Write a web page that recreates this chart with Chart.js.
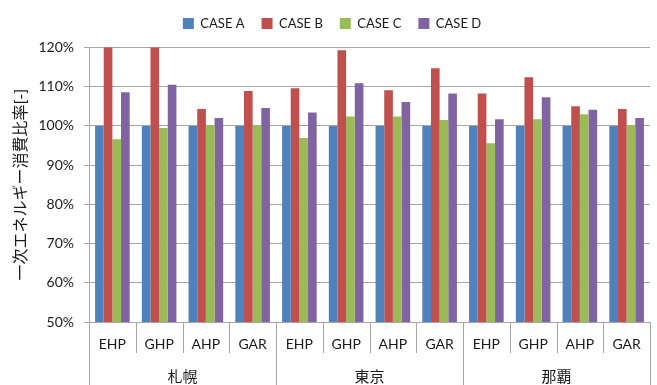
<!DOCTYPE html>
<html>
<head>
<meta charset="utf-8">
<script src="https://cdn.jsdelivr.net/npm/chart.js@4/dist/chart.umd.min.js"></script>
<style>
  html, body { margin: 0; padding: 0; background: #fff; }
  #wrap { width: 657px; height: 385px; }
</style>
</head>
<body>
<div id="wrap"><canvas id="c" width="657" height="385"></canvas></div>
<script>
// Cities (outer category level) and systems (inner level)
const cities = ['札幌', '東京', '那覇'];
const systems = ['EHP', 'GHP', 'AHP', 'GAR'];

// Primary energy consumption ratio [%], ordered 札幌 EHP..GAR, 東京 EHP..GAR, 那覇 EHP..GAR
const caseA = [100, 100, 100, 100, 100, 100, 100, 100, 100, 100, 100, 100];
const caseB = [123.0, 124.0, 104.3, 108.9, 109.6, 119.3, 109.1, 114.7, 108.3, 112.4, 105.0, 104.3];
const caseC = [96.6, 99.5, 100.2, 100.2, 96.9, 102.4, 102.4, 101.5, 95.6, 101.7, 103.0, 100.2];
const caseD = [108.6, 110.5, 102.0, 104.6, 103.4, 110.9, 106.1, 108.3, 101.7, 107.3, 104.1, 102.0];

const yTicks = { min: 50, max: 120, step: 10 };
const yTitle = '一次エネルギー消費比率[-]';

const labels = [];
cities.forEach(c => systems.forEach(s => labels.push(s)));

const FONT = "Lato, 'Noto Sans CJK JP', sans-serif";
const GRID = '#a6a6a6';

// Extra room between the legend and the plot area
const legendGap = {
  id: 'legendGap',
  beforeLayout(chart) {
    const lg = chart.legend;
    if (lg && !lg._gapPatched) {
      const fit = lg.fit;
      lg.fit = function () { fit.call(this); this.height += 7.5; };
      lg._gapPatched = true;
    }
  }
};

// Two-level category axis: inner system labels, outer city labels and separators
const multiLevelAxis = {
  id: 'multiLevelAxis',
  afterDraw(chart) {
    const { ctx, chartArea: area, scales: { x } } = chart;
    const n = labels.length;
    const w = (area.right - area.left) / n;
    const bottom = chart.height;
    ctx.save();
    ctx.strokeStyle = GRID;
    ctx.lineWidth = 1;
    for (let i = 0; i <= n; i++) {
      const xx = Math.round(area.left + i * w) + 0.5;
      const yEnd = (i % systems.length === 0) ? bottom : area.bottom + 31;
      ctx.beginPath();
      ctx.moveTo(xx, area.bottom);
      ctx.lineTo(xx, yEnd);
      ctx.stroke();
    }
    ctx.fillStyle = '#1a1a1a';
    ctx.textAlign = 'center';
    ctx.textBaseline = 'middle';
    ctx.font = '14px ' + FONT;
    labels.forEach((l, i) => ctx.fillText(l, x.getPixelForValue(i), area.bottom + 22));
    ctx.font = '15px ' + FONT;
    cities.forEach((c, g) => {
      const cx = area.left + (g * systems.length + systems.length / 2) * w;
      ctx.fillText(c, cx, area.bottom + 55);
    });
    // vertical axis title
    ctx.translate(21, (area.top + area.bottom) / 2);
    ctx.rotate(-Math.PI / 2);
    ctx.font = '16px ' + FONT;
    ctx.fillText(yTitle, 0, 0);
    ctx.restore();
  }
};

new Chart(document.getElementById('c'), {
  type: 'bar',
  data: {
    labels: labels,
    datasets: [
      { label: 'CASE A', data: caseA, backgroundColor: '#4F81BD' },
      { label: 'CASE B', data: caseB, backgroundColor: '#C0504D' },
      { label: 'CASE C', data: caseC, backgroundColor: '#9BBB59' },
      { label: 'CASE D', data: caseD, backgroundColor: '#8064A2' }
    ]
  },
  options: {
    responsive: false,
    animation: false,
    devicePixelRatio: 1,
    layout: { padding: { top: 0, right: 7, bottom: 0, left: 14 } },
    datasets: { bar: { categoryPercentage: 0.74, barPercentage: 1.0 } },
    plugins: {
      legend: {
        position: 'top',
        labels: {
          boxWidth: 11, boxHeight: 11, padding: 17,
          color: '#1a1a1a',
          font: { family: FONT, size: 13 }
        }
      },
      tooltip: { enabled: false }
    },
    scales: {
      x: {
        grid: { display: false },
        border: { display: true, color: GRID, width: 1 },
        ticks: { display: false },
        afterFit(scale) { scale.height = 63; }
      },
      y: {
        min: yTicks.min,
        max: yTicks.max,
        ticks: {
          stepSize: yTicks.step,
          padding: 10,
          color: '#1a1a1a',
          font: { family: FONT, size: 14 },
          callback: v => v + '%'
        },
        grid: { color: GRID, lineWidth: 1, tickLength: 5 },
        border: { display: true, color: GRID, width: 1 },
        afterFit(scale) { scale.width = 75; }
      }
    }
  },
  plugins: [legendGap, multiLevelAxis]
});
</script>
</body>
</html>
